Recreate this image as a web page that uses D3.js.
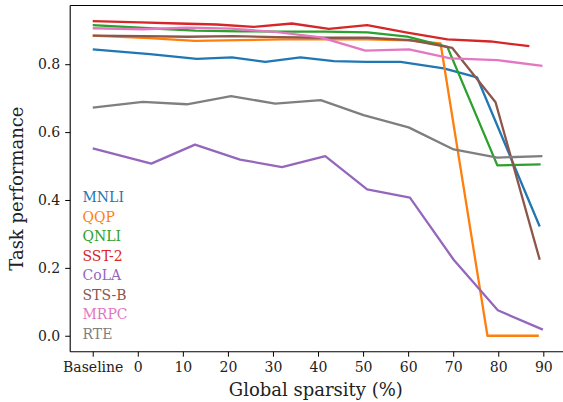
<!DOCTYPE html>
<html>
<head>
<meta charset="utf-8">
<script src="https://cdn.jsdelivr.net/npm/d3@7"></script>
<style>
  body { margin: 0; background: #fff; }
  svg { display: block; }
</style>
</head>
<body>
<div id="chart"></div>
<script>
// task names in legend order, with the tab10 colours
var taskNames = ["MNLI", "QQP", "QNLI", "SST-2", "CoLA", "STS-B", "MRPC", "RTE"];
var taskColors = ["#1f77b4", "#ff7f0e", "#2ca02c", "#d62728", "#9467bd", "#8c564b", "#e377c2", "#7f7f7f"];

// x tick labels (-10 stands for the baseline model)
var xTickValues = [-10, 0, 10, 20, 30, 40, 50, 60, 70, 80, 90];
var xTickLabels = ["Baseline", "0", "10", "20", "30", "40", "50", "60", "70", "80", "90"];
var yTickValues = [0.0, 0.2, 0.4, 0.6, 0.8];

// global sparsity (%) per task
var mnliX  = [-10, 2.7, 13.1, 20.9, 28.3, 36.1, 43.5, 50.7, 58.3, 67.9, 75.3, 89.2];
var qqpX   = [-10, 2.5, 12.7, 22.5, 32.0, 41.5, 51.0, 60.0, 67.2, 77.6, 89.0];
var qnliX  = [-10, 2.5, 12.8, 22.5, 32.0, 41.5, 51.0, 59.8, 68.7, 79.8, 89.4];
var sst2X  = [-10, 0.5, 9.0, 17.5, 25.7, 34.2, 42.4, 50.9, 59.8, 68.7, 78.3, 86.9];
var colaX  = [-10, 3.0, 12.7, 22.7, 32.0, 41.6, 50.9, 60.4, 70.1, 79.9, 89.9];
var stsbX  = [-10, 1.0, 11.0, 21.0, 31.0, 41.0, 51.0, 60.5, 69.8, 79.4, 89.2];
var mrpcX  = [-10, 1.1, 10.9, 20.7, 30.5, 40.6, 50.5, 60.2, 69.4, 79.8, 89.8];
var rteX   = [-10, 1.1, 10.9, 20.7, 30.5, 40.6, 50.1, 60.1, 70.1, 79.8, 89.8];

// task performance per task
var mnliY  = [0.844, 0.830, 0.816, 0.820, 0.807, 0.820, 0.809, 0.807, 0.807, 0.788, 0.761, 0.322];
var qqpY   = [0.884, 0.877, 0.869, 0.871, 0.873, 0.873, 0.873, 0.870, 0.861, 0.000, 0.000];
var qnliY  = [0.915, 0.906, 0.899, 0.897, 0.896, 0.896, 0.894, 0.881, 0.851, 0.502, 0.505];
var sst2Y  = [0.927, 0.923, 0.920, 0.917, 0.910, 0.920, 0.904, 0.915, 0.893, 0.873, 0.867, 0.853];
var colaY  = [0.552, 0.507, 0.563, 0.519, 0.497, 0.529, 0.431, 0.407, 0.224, 0.075, 0.018];
var stsbY  = [0.884, 0.883, 0.881, 0.883, 0.880, 0.878, 0.878, 0.871, 0.848, 0.688, 0.224];
var mrpcY  = [0.906, 0.903, 0.908, 0.905, 0.895, 0.879, 0.840, 0.844, 0.817, 0.812, 0.795];
var rteY   = [0.672, 0.689, 0.682, 0.706, 0.684, 0.694, 0.650, 0.614, 0.549, 0.525, 0.529];

var xsByTask = [mnliX, qqpX, qnliX, sst2X, colaX, stsbX, mrpcX, rteX];
var ysByTask = [mnliY, qqpY, qnliY, sst2Y, colaY, stsbY, mrpcY, rteY];

var serif = "'DejaVu Serif', serif";

var width = 563, height = 402;
var margin = {left: 70.2, top: 5.5, bottom: 50.3};
var plotBottom = height - margin.bottom;

var svg = d3.select("#chart").append("svg")
    .attr("width", width)
    .attr("height", height);

// right spine sits just outside the cropped picture
var x = d3.scaleLinear().domain([-15, 94.9]).range([margin.left, 565.4]);
var y = d3.scaleLinear().domain([-0.047, 0.973]).range([plotBottom, margin.top]);

var series = taskNames.map(function (name, i) {
  return {
    name: name,
    color: taskColors[i],
    points: xsByTask[i].map(function (v, j) { return [v, ysByTask[i][j]]; })
  };
});

var line = d3.line()
    .x(function (d) { return x(d[0]); })
    .y(function (d) { return y(d[1]); });

svg.append("defs").append("clipPath").attr("id", "plot-clip")
  .append("rect")
    .attr("x", margin.left).attr("y", margin.top)
    .attr("width", 565.4 - margin.left).attr("height", plotBottom - margin.top);

svg.append("g")
    .attr("clip-path", "url(#plot-clip)")
  .selectAll("path")
  .data(series)
  .enter()
  .append("path")
    .attr("d", function (s) { return line(s.points); })
    .attr("fill", "none")
    .attr("stroke", function (s) { return s.color; })
    .attr("stroke-width", 2.3)
    .attr("stroke-linejoin", "round");

// axes
var xAxis = svg.append("g")
    .attr("transform", "translate(0," + plotBottom + ")")
    .call(d3.axisBottom(x)
      .tickValues(xTickValues)
      .tickFormat(function (d, i) { return xTickLabels[i]; })
      .tickSize(5)
      .tickPadding(5));

var yAxis = svg.append("g")
    .attr("transform", "translate(" + margin.left + ",0)")
    .call(d3.axisLeft(y)
      .tickValues(yTickValues)
      .tickFormat(d3.format(".1f"))
      .tickSize(5)
      .tickPadding(5));

[xAxis, yAxis].forEach(function (ax) {
  ax.select(".domain").remove();
  ax.selectAll(".tick line").attr("stroke", "#000").attr("stroke-width", 1);
  ax.selectAll(".tick text")
    .style("font-family", serif)
    .style("font-size", "14px")
    .style("fill", "#222");
});

// spines (left, bottom, top)
svg.append("line")
    .attr("x1", margin.left).attr("x2", margin.left)
    .attr("y1", margin.top).attr("y2", plotBottom)
    .attr("stroke", "#000").attr("stroke-width", 1.1);
svg.append("line")
    .attr("x1", margin.left).attr("x2", width)
    .attr("y1", plotBottom).attr("y2", plotBottom)
    .attr("stroke", "#000").attr("stroke-width", 1.1);
svg.append("line")
    .attr("x1", margin.left).attr("x2", width)
    .attr("y1", margin.top).attr("y2", margin.top)
    .attr("stroke", "#000").attr("stroke-width", 1.1);

// axis titles
svg.append("text")
    .attr("x", (margin.left + 565.4) / 2 - 2)
    .attr("y", 396)
    .attr("text-anchor", "middle")
    .style("font-family", serif)
    .style("font-size", "18px")
    .style("fill", "#222")
    .text("Global sparsity (%)");

svg.append("text")
    .attr("transform", "translate(23," + ((margin.top + plotBottom) / 2 + 10) + ") rotate(-90)")
    .attr("text-anchor", "middle")
    .style("font-family", serif)
    .style("font-size", "18px")
    .style("fill", "#222")
    .text("Task performance");

// legend: coloured labels, no handles
svg.append("g")
  .selectAll("text")
  .data(series)
  .enter()
  .append("text")
    .attr("x", 82.5)
    .attr("y", function (s, i) { return 197.5 + i * 19.5; })
    .attr("dy", "0.35em")
    .style("font-family", serif)
    .style("font-size", "14px")
    .style("fill", function (s) { return s.color; })
    .text(function (s) { return s.name; });
</script>
</body>
</html>
